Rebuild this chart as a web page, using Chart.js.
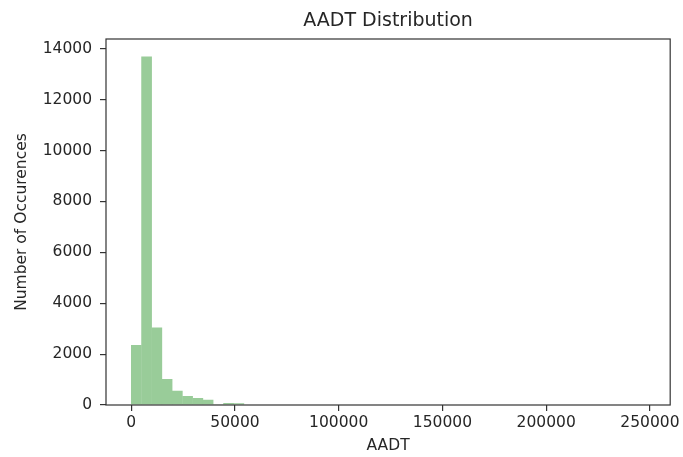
<!DOCTYPE html>
<html lang="en">
<head>
    <meta charset="UTF-8">
    <title>AADT Distribution</title>
    <script src="https://cdn.jsdelivr.net/npm/chart.js"></script>
    <style>
        * { margin: 0; padding: 0; box-sizing: border-box; }
        body { background: #fff; }
        .chart-box { width: 683px; height: 457px; position: relative; }
    </style>
</head>
<body>
    <div class="chart-box">
        <canvas id="histCanvas"></canvas>
    </div>

    <script>
        // histogram data: 50 equal bins starting at 0
        var binStart = 0;
        var binWidth = 4940;
        var binCounts = [2360, 13700, 3050, 1020, 560, 355, 275, 210, 10, 80,
                         70, 0, 0, 0, 0, 0, 0, 0, 0, 0,
                         0, 0, 0, 0, 0, 0, 0, 0, 0, 0,
                         0, 0, 0, 0, 0, 0, 0, 0, 0, 0,
                         0, 0, 0, 0, 0, 0, 0, 0, 0, 0];
        var xTickValues = [0, 50000, 100000, 150000, 200000, 250000];
        var yTickValues = [0, 2000, 4000, 6000, 8000, 10000, 12000, 14000];

        var points = binCounts.map(function (c, i) {
            return { x: binStart + (i + 0.5) * binWidth, y: c };
        });

        var fontFamily = "'DejaVu Sans', sans-serif";
        var ink = '#262626';

        // draws the box around the axes like matplotlib does
        var frameBox = {
            id: 'frameBox',
            afterDraw: function (chart) {
                var a = chart.chartArea;
                var ctx = chart.ctx;
                ctx.save();
                ctx.strokeStyle = '#333';
                ctx.lineWidth = 1.2;
                ctx.strokeRect(a.left, a.top, a.right - a.left, a.bottom - a.top);
                ctx.restore();
            }
        };

        var ctx = document.getElementById('histCanvas').getContext('2d');
        var histChart = new Chart(ctx, {
            type: 'bar',
            data: {
                datasets: [{
                    label: 'AADT',
                    data: points,
                    // green at alpha 0.4 on white, opaque so bins can overlap without seams
                    backgroundColor: 'rgb(153, 204, 153)',
                    borderWidth: 0,
                    barPercentage: 1.04,
                    categoryPercentage: 1,
                    grouped: false
                }]
            },
            options: {
                responsive: true,
                maintainAspectRatio: false,
                animation: false,
                layout: { padding: { left: 0, right: 11, top: 0, bottom: 0 } },
                plugins: {
                    legend: { display: false },
                    tooltip: { enabled: false },
                    title: {
                        display: true,
                        text: 'AADT Distribution',
                        fullSize: false,
                        color: ink,
                        font: { family: fontFamily, size: 19, weight: 'normal' },
                        padding: { top: 10, bottom: 6.2 }
                    }
                },
                scales: {
                    x: {
                        type: 'linear',
                        min: -12150,
                        max: 259750,
                        offset: false,
                        afterBuildTicks: function (scale) {
                            scale.ticks = xTickValues.map(function (v) { return { value: v }; });
                        },
                        afterFit: function (scale) { scale.height = 52; },
                        border: { display: false },
                        grid: {
                            display: true,
                            offset: false,
                            drawOnChartArea: false,
                            drawTicks: true,
                            tickLength: 6,
                            tickColor: '#333',
                            lineWidth: 1.2
                        },
                        ticks: {
                            color: ink,
                            padding: 3,
                            maxRotation: 0,
                            autoSkip: false,
                            font: { family: fontFamily, size: 15.5 },
                            callback: function (v) { return String(v); }
                        },
                        title: {
                            display: true,
                            text: 'AADT',
                            color: ink,
                            font: { family: fontFamily, size: 15.5 },
                            padding: { top: 0, bottom: 2 }
                        }
                    },
                    y: {
                        type: 'linear',
                        min: 0,
                        max: 14385,
                        afterBuildTicks: function (scale) {
                            scale.ticks = yTickValues.map(function (v) { return { value: v }; });
                        },
                        afterFit: function (scale) { scale.width = 106; },
                        border: { display: false },
                        grid: {
                            display: true,
                            drawOnChartArea: false,
                            drawTicks: true,
                            tickLength: 6,
                            tickColor: '#333',
                            lineWidth: 1.2
                        },
                        ticks: {
                            color: ink,
                            padding: 8,
                            autoSkip: false,
                            font: { family: fontFamily, size: 15.5 },
                            callback: function (v) { return String(v); }
                        },
                        title: {
                            display: true,
                            text: 'Number of Occurences',
                            color: ink,
                            font: { family: fontFamily, size: 15.5 },
                            padding: { top: 12.7, bottom: 0 }
                        }
                    }
                }
            },
            plugins: [frameBox]
        });
    </script>
</body>
</html>
